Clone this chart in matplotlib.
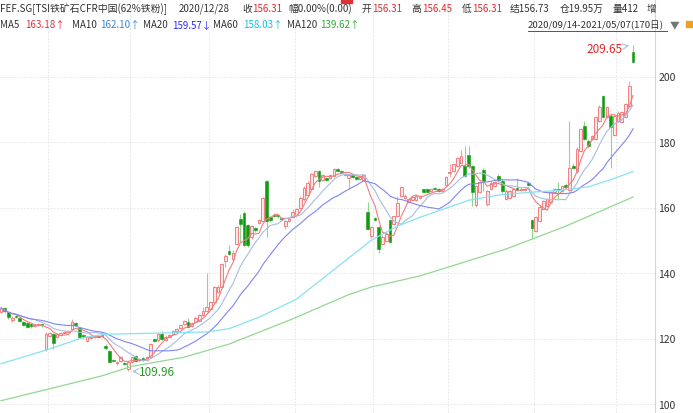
import numpy as np
import pandas as pd
import matplotlib
matplotlib.use("Agg")
import matplotlib.pyplot as plt
from matplotlib.patches import Rectangle
from matplotlib.lines import Line2D

plt.rcParams['font.family'] = ['Noto Sans CJK SC', 'DejaVu Sans']

# ---------------- data ----------------
opens = [128.0,129.2,128.2,125.5,126.8,126.4,125.0,124.8,124.3,123.8,
         124.0,124.2,116.8,120.8,121.4,120.5,121.0,121.8,122.1,122.8,
         124.6,123.2,121.1,119.3,120.3,120.5,120.9,120.9,117.8,116.3,
         113.3,112.4,113.0,112.6,110.6,112.9,114.6,113.8,114.0,113.5,
         114.3,119.8,119.4,121.5,119.5,120.4,121.3,122.2,123.2,124.5,
         125.0,123.8,125.0,125.2,127.1,128.4,129.0,131.0,134.3,135.8,
         143.7,146.8,144.3,149.0,156.5,158.3,154.7,151.0,153.6,155.4,
         155.8,168.0,157.0,157.8,157.5,156.9,154.5,156.0,157.0,157.8,
         159.8,162.5,163.8,165.5,169.5,171.2,168.3,168.9,169.0,169.6,
         171.9,171.2,169.8,169.0,170.0,169.2,168.7,168.5,158.6,151.2,
         156.9,154.1,149.0,149.8,156.1,155.0,157.5,163.5,163.0,161.8,
         162.4,162.2,163.0,165.5,165.6,165.0,166.0,165.8,164.9,167.0,
         170.5,171.2,172.8,173.5,172.6,176.0,172.6,160.8,164.7,171.6,
         161.0,165.6,166.6,169.7,168.2,162.6,163.0,163.5,166.0,165.3,
         165.2,167.6,156.2,152.8,155.8,159.6,160.6,161.8,164.8,165.8,
         165.0,167.0,165.3,172.6,171.0,177.2,184.8,180.4,180.9,181.0,
         186.4,194.0,187.6,188.0,182.0,186.5,186.0,187.5,191.0,207.4]
highs = [129.8,129.5,128.5,126.8,127.2,126.6,125.3,125.0,124.6,124.4,
         124.6,124.5,122.0,121.9,121.8,121.7,122.1,122.4,122.7,126.0,
         124.9,123.4,121.3,120.8,121.0,121.0,121.1,121.2,118.3,116.6,
         113.6,113.2,114.8,112.9,113.1,114.8,115.0,114.1,114.3,114.6,
         118.6,120.3,121.7,122.3,121.0,121.3,122.7,123.2,124.5,125.6,
         126.2,125.1,126.8,127.6,129.5,140.0,131.4,136.0,136.2,143.2,
         145.8,148.5,147.0,154.5,158.0,159.0,155.0,154.6,153.9,156.5,
         163.3,168.3,157.5,158.2,157.9,157.2,156.2,156.8,159.4,160.0,
         163.4,166.5,168.0,170.6,171.5,171.5,170.3,169.2,170.1,172.0,
         172.2,171.6,170.5,170.3,170.3,169.5,169.5,170.1,161.8,154.4,
         157.2,154.5,151.5,152.4,156.5,157.5,163.5,166.7,164.0,163.0,
         163.5,163.8,163.9,165.8,166.0,165.8,166.3,166.0,166.0,169.6,
         173.2,173.6,175.4,177.5,178.8,178.8,173.0,167.0,168.2,172.0,
         165.4,168.0,168.2,170.2,168.6,165.6,165.4,166.0,169.0,165.9,
         166.1,167.9,156.5,157.5,160.7,162.4,163.0,165.1,165.9,167.8,
         166.9,167.5,186.3,173.6,178.4,184.4,186.4,180.8,182.2,188.0,
         191.2,194.5,191.0,188.8,188.6,189.4,189.6,192.0,198.6,209.65]
lows = [127.8,127.8,126.0,125.0,126.2,125.0,123.9,123.2,123.2,123.5,
        123.8,123.6,116.2,120.5,116.8,120.2,120.8,121.6,121.9,122.5,
        123.8,120.2,120.0,119.0,120.1,120.3,120.4,120.5,116.5,112.5,
        112.7,112.0,112.8,111.8,109.96,112.6,112.8,113.0,113.0,113.2,
        114.0,118.8,119.0,119.6,119.2,120.1,121.0,122.0,122.9,124.2,
        123.3,123.5,124.7,124.9,126.8,128.1,128.8,130.6,134.0,135.5,
        141.8,145.5,144.0,148.6,149.5,148.3,147.8,150.5,152.6,155.0,
        155.5,151.0,155.5,157.0,156.9,156.3,153.3,155.7,156.8,157.5,
        159.5,162.0,163.4,165.2,169.2,166.3,168.0,168.0,168.7,169.3,
        171.0,170.4,169.5,165.6,169.1,168.3,168.4,168.2,153.0,150.8,
        155.9,146.2,148.6,149.5,149.2,154.7,157.2,163.2,162.6,161.5,
        162.0,161.9,162.7,164.3,164.4,164.8,165.3,164.6,164.6,166.7,
        169.2,170.8,172.4,173.2,169.2,172.0,160.5,160.3,164.4,165.0,
        160.6,165.2,166.3,168.2,164.5,162.2,162.7,163.2,164.9,165.0,
        164.9,166.5,150.5,152.5,155.5,159.3,160.3,161.5,164.5,162.6,
        164.7,165.8,165.0,171.7,170.6,176.8,180.6,178.2,180.6,180.7,
        186.1,187.2,187.3,172.2,181.7,186.2,185.7,187.2,190.7,204.0]
closes = [129.2,128.3,126.5,126.4,126.5,125.3,124.2,123.6,123.9,124.1,
          124.3,124.0,121.4,121.6,118.5,121.3,121.8,122.1,122.4,125.0,
          124.1,120.5,120.6,120.4,120.6,120.7,120.6,120.7,117.0,112.9,
          113.0,112.9,114.3,112.1,112.8,114.3,113.1,113.4,113.3,114.3,
          118.2,119.2,121.3,120.0,120.6,121.0,122.4,122.8,124.2,125.3,
          123.6,124.8,126.4,127.2,128.4,129.6,131.0,135.6,135.6,142.7,
          145.2,145.8,146.1,154.0,155.0,148.7,148.6,154.2,153.0,156.2,
          162.9,155.9,156.2,157.4,157.3,156.6,155.8,156.5,158.6,159.5,
          163.0,166.0,167.5,170.2,171.0,168.2,169.9,168.3,169.8,171.7,
          171.2,170.7,170.1,169.9,169.4,168.6,169.2,169.8,153.5,154.0,
          156.2,147.4,151.1,152.0,149.6,157.3,161.5,166.2,163.6,162.6,
          163.2,163.4,163.6,164.6,164.7,165.5,165.6,164.9,165.7,169.2,
          170.8,173.2,175.0,175.8,169.6,172.6,164.8,166.6,167.8,168.1,
          165.0,167.6,167.8,168.5,165.0,165.0,165.0,165.6,165.3,165.6,
          165.8,166.8,153.6,157.0,160.3,162.0,162.7,164.7,165.5,165.3,
          166.5,166.2,172.0,172.0,178.0,184.0,181.0,178.7,181.8,187.6,
          190.7,187.6,190.7,184.6,188.0,189.0,189.2,191.5,197.0,204.4]

# MA60 / MA120 (candle index, value)
ma60_idx = [0, 13, 22, 28, 40, 55, 61, 69, 79, 89, 99, 106, 112, 125, 133, 142, 149, 157, 163, 169]
ma60_val = [112.3, 116.8, 120.3, 121.3, 121.6, 122.0, 123.0, 126.5, 132.0, 141.0,
            150.0, 154.3, 157.0, 162.2, 163.8, 164.7, 165.2, 166.3, 168.5, 171.0]
ma120_idx = [0, 27, 35, 49, 61, 78, 93, 99, 112, 135, 151, 169]
ma120_val = [101.0, 108.6, 111.5, 114.3, 118.3, 126.0, 133.4, 135.7, 139.1, 147.3, 154.3, 163.2]

month_start_idx = [13, 35, 56, 79, 100, 120, 143, 165]
yticks = [100, 120, 140, 160, 180, 200]

# ---------------- figure ----------------
W, H = 693, 414
fig = plt.figure(figsize=(W / 100, H / 100), dpi=100)
ax = fig.add_axes([0, 0, 655 / W, 1])

n = len(closes)
idx = np.arange(n)
o = np.array(opens); c = np.array(closes); hi = np.array(highs); lo = np.array(lows)
up = c >= o

up_edge = '#f08080'
up_face = '#fde6e6'
up_wick = '#f4a0a0'
dn_face = '#139a13'
dn_wick = '#8fd48f'

ax.vlines(idx[up], lo[up], hi[up], color=up_wick, lw=0.8, zorder=2)
ax.vlines(idx[~up], lo[~up], hi[~up], color=dn_wick, lw=0.8, zorder=2)
body_h = np.maximum(np.abs(c - o), 0.3)
ax.bar(idx[up], body_h[up], bottom=np.minimum(o, c)[up], width=0.72,
       facecolor=up_face, edgecolor=up_edge, linewidth=0.7, zorder=3)
ax.bar(idx[~up], body_h[~up], bottom=np.minimum(o, c)[~up], width=0.72,
       facecolor=dn_face, edgecolor=dn_face, linewidth=0.4, zorder=3)

s = pd.Series(closes)
ma5 = s.rolling(5, min_periods=1).mean()
ma10 = s.rolling(10, min_periods=1).mean()
ma20 = s.rolling(20, min_periods=1).mean()
ax.plot(idx, ma5, color='#f27c7c', lw=0.8, zorder=4)
ax.plot(idx, ma10, color='#a9bce3', lw=0.8, zorder=4)
ax.plot(idx, ma20, color='#7f86f2', lw=0.8, zorder=4)
ax.plot(ma60_idx, ma60_val, color='#86e2f2', lw=0.9, zorder=4)
ax.plot(ma120_idx, ma120_val, color='#92d892', lw=0.9, zorder=4)

dx = 3.74
x0 = 1.0
ax.set_xlim(-x0 / dx, (655 - x0) / dx)
ymin = 200 - (414 - 77.5) / 3.275
ymax = 200 + 77.5 / 3.275
ax.set_ylim(ymin, ymax)

for b in month_start_idx:
    ax.axvline(b - 0.5, color='#e2e2e2', lw=0.6, ls=(0, (2, 2)), zorder=0)
for t in yticks:
    ax.axhline(t, color='#e2e2e2', lw=0.6, ls=(0, (2, 2)), zorder=0)

for sp in ['top', 'left', 'bottom']:
    ax.spines[sp].set_visible(False)
ax.spines['right'].set_color('#d4d4d4')
ax.spines['right'].set_linewidth(0.8)
ax.yaxis.tick_right()
ax.set_yticks(yticks)
ax.set_yticklabels([str(t) for t in yticks])
ax.tick_params(axis='y', length=0, pad=2.5, labelsize=7.5, labelcolor='#333333')
ax.set_xticks([])

# annotations of max / min
hmax_i = int(np.argmax(hi)); lmin_i = int(np.argmin(lo))
ax.annotate('', xy=(hmax_i - 0.3, hi[hmax_i]), xytext=(hmax_i - 2.6, hi[hmax_i] - 0.5),
            arrowprops=dict(arrowstyle='->', color='#a9c4dc', lw=0.8), zorder=6)
ax.text(hmax_i - 2.8, hi[hmax_i] - 1.2, f'{hi[hmax_i]:.2f}', color='#e02a2a',
        fontsize=8.5, ha='right', va='center', zorder=6)
ax.annotate('', xy=(lmin_i + 0.3, lo[lmin_i]), xytext=(lmin_i + 2.7, lo[lmin_i]),
            arrowprops=dict(arrowstyle='->', color='#a9c4dc', lw=0.8), zorder=6)
ax.text(lmin_i + 2.8, lo[lmin_i], f'{lo[lmin_i]:.2f}', color='#2a9a2a',
        fontsize=8.5, ha='left', va='center', zorder=6)

# ---------------- header text ----------------
def ftext(xp, yp, s, color='#333333', size=7.0):
    fig.text(xp / W, 1 - yp / H, s, color=color, fontsize=size, ha='left', va='center',
             family=['Noto Sans CJK SC', 'DejaVu Sans'])

red = '#e0282e'
row1 = 9
ftext(0, row1, 'FEF.SG[TSI铁矿石CFR中国(62%铁粉)]', size=7.1)
ftext(179, row1, '2020/12/28')
ftext(242, row1, '收')
ftext(252, row1, '156.31', red)
ftext(288, row1, '幅0.00%(0.00)')
ftext(362, row1, '开')
ftext(372, row1, '156.31', red)
ftext(411, row1, '高')
ftext(422, row1, '156.45', red)
ftext(462, row1, '低')
ftext(472, row1, '156.31', red)
ftext(510, row1, '结156.73')
ftext(560, row1, '仓19.95万')
ftext(613, row1, '量412')
ftext(647, row1, '增')

row2 = 25
ftext(0, row2, 'MA5')
ftext(25, row2, '163.18↑', '#e0303a')
ftext(72, row2, 'MA10')
ftext(100, row2, '162.10↑', '#3c86cc')
ftext(143, row2, 'MA20')
ftext(172, row2, '159.57↓', '#2a2af0')
ftext(213, row2, 'MA60')
ftext(243, row2, '158.03↑', '#16bde0')
ftext(287, row2, 'MA120')
ftext(320, row2, '139.62↑', '#2eaa2e')
ftext(528, row2, '2020/09/14-2021/05/07(170日)', size=6.9)
ftext(670, row2, '▼', '#777777', 7.0)
fig.add_artist(Line2D([528 / W, 667 / W], [1 - 32 / H, 1 - 32 / H], color='#555555', lw=0.7))
fig.add_artist(Rectangle((686 / W, 1 - 28 / H), 6 / W, 6 / H, color='#f0a020'))
fig.add_artist(Rectangle((341 / W, 1 - 4 / H), 11 / W, 4 / H, color='#e03030'))

fig.savefig('out.png', dpi=100)
